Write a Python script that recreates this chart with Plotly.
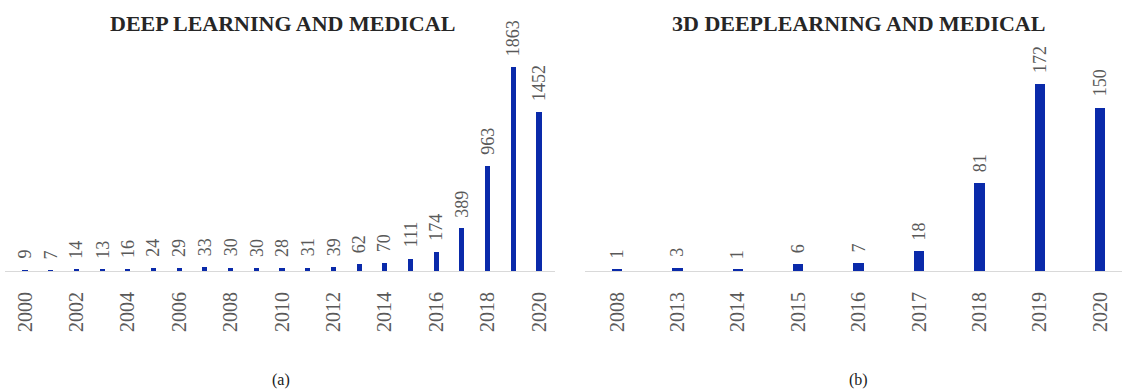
import plotly.graph_objects as go

# Data
years_a = [str(y) for y in range(2000, 2021)]
values_a = [9, 7, 14, 13, 16, 24, 29, 33, 30, 30, 28, 31, 39, 62, 70, 111, 174, 389, 963, 1863, 1452]
ticks_a = [str(y) for y in range(2000, 2021, 2)]

years_b = ["2008", "2013", "2014", "2015", "2016", "2017", "2018", "2019", "2020"]
values_b = [1, 3, 1, 6, 7, 18, 81, 172, 150]

title_a = "DEEP LEARNING AND MEDICAL"
title_b = "3D DEEPLEARNING AND MEDICAL"

W, H = 1126, 391
BAR = "#0a2aaa"
GRAY = "#595959"
SERIF = "Liberation Serif, Times New Roman, serif"
PAL = "Palatino Linotype, Book Antiqua, Palatino, Liberation Serif, serif"

def px(x):
    return x / W

y_dom = [(H - 271) / H, (H - 40) / H]

fig = go.Figure()
fig.add_trace(go.Bar(
    x=years_a, y=values_a, xaxis="x", yaxis="y", width=0.2,
    marker=dict(color=BAR, line=dict(width=0)), cliponaxis=False,
))
fig.add_trace(go.Bar(
    x=years_b, y=values_b, xaxis="x2", yaxis="y2", width=0.17,
    marker=dict(color=BAR, line=dict(width=0)), cliponaxis=False,
))

annotations = []
for xs, vs, xr, yr in [(years_a, values_a, "x", "y"), (years_b, values_b, "x2", "y2")]:
    for i, v in enumerate(vs):
        annotations.append(dict(
            text=str(v), x=i, y=v, xref=xr, yref=yr, showarrow=False,
            textangle=-90, xanchor="center", yanchor="bottom", yshift=9,
            font=dict(family=SERIF, size=18, color=GRAY),
        ))

axis_common = dict(
    type="category", showgrid=False, zeroline=False, showline=True,
    linecolor="#d9d9d9", linewidth=1, ticks="", tickangle=-90,
    tickfont=dict(family=SERIF, size=20, color=GRAY), ticklabelstandoff=12,
)

annotations += [
    dict(text="<b>" + title_a + "</b>", x=px(282), y=(H - 23) / H, xref="paper", yref="paper",
         showarrow=False, xanchor="center", yanchor="middle",
         font=dict(family=PAL, size=22, color="#262626")),
    dict(text="<b>" + title_b + "</b>", x=px(858), y=(H - 23) / H, xref="paper", yref="paper",
         showarrow=False, xanchor="center", yanchor="middle",
         font=dict(family=PAL, size=22, color="#262626")),
    dict(text="(a)", x=px(281), y=(H - 380) / H, xref="paper", yref="paper",
         showarrow=False, xanchor="center", yanchor="middle",
         font=dict(family=PAL, size=16, color="#1a1a1a")),
    dict(text="(b)", x=px(858), y=(H - 380) / H, xref="paper", yref="paper",
         showarrow=False, xanchor="center", yanchor="middle",
         font=dict(family=PAL, size=16, color="#1a1a1a")),
]

fig.update_layout(
    width=W, height=H, margin=dict(l=0, r=0, t=0, b=0),
    paper_bgcolor="white", plot_bgcolor="white", showlegend=False,
    bargap=0,
    xaxis=dict(domain=[px(5), px(555)], anchor="y",
               range=[(5 - 25) / 25.7, (555 - 25) / 25.7],
               categoryorder="array", categoryarray=years_a,
               tickmode="array", tickvals=ticks_a, ticktext=ticks_a, **axis_common),
    yaxis=dict(domain=y_dom, anchor="x", range=[0, 2110], visible=False),
    xaxis2=dict(domain=[px(585), px(1122)], anchor="y2",
                range=[(585 - 617) / 60.4, (1122 - 617) / 60.4],
                categoryorder="array", categoryarray=years_b, **axis_common),
    yaxis2=dict(domain=y_dom, anchor="x2", range=[0, 212], visible=False),
    annotations=annotations,
)

fig.write_html("out.html")
